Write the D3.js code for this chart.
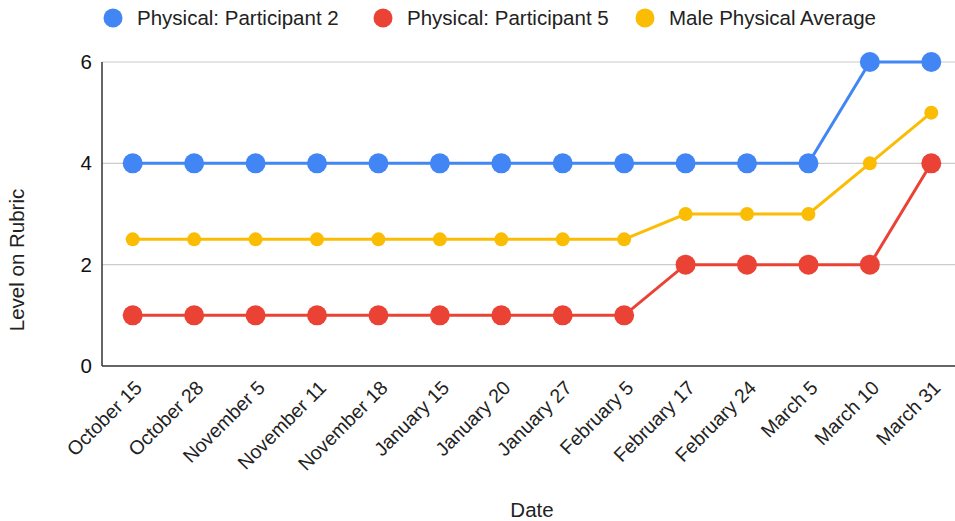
<!DOCTYPE html>
<html>
<head>
<meta charset="utf-8">
<script src="https://cdn.jsdelivr.net/npm/d3@7/dist/d3.min.js"></script>
<style>
  html, body { margin: 0; padding: 0; background: #fff; }
  svg { display: block; font-family: Arial, "Liberation Sans", sans-serif; }
</style>
</head>
<body>
<svg id="chart" width="955" height="521"></svg>
<script>
// Session dates along the x axis
const dates = ["October 15", "October 28", "November 5", "November 11", "November 18",
  "January 15", "January 20", "January 27", "February 5", "February 17",
  "February 24", "March 5", "March 10", "March 31"];

// Rubric levels per series
const participant2 = [4, 4, 4, 4, 4, 4, 4, 4, 4, 4, 4, 4, 6, 6];
const participant5 = [1, 1, 1, 1, 1, 1, 1, 1, 1, 2, 2, 2, 2, 4];
const maleAverage  = [2.5, 2.5, 2.5, 2.5, 2.5, 2.5, 2.5, 2.5, 2.5, 3, 3, 3, 4, 5];

const yTicks = [0, 2, 4, 6];

const seriesNames  = ["Physical: Participant 2", "Physical: Participant 5", "Male Physical Average"];
const seriesColors = ["#4285F4", "#EA4335", "#FBBC04"];

const series = [
  { name: seriesNames[0], values: participant2, color: seriesColors[0], r: 10, w: 3 },
  { name: seriesNames[1], values: participant5, color: seriesColors[1], r: 10, w: 3 },
  { name: seriesNames[2], values: maleAverage,  color: seriesColors[2], r: 7,  w: 3 }
];

const svg = d3.select("#chart");
const plotLeft = 102, plotRight = 962, plotTop = 62, plotBottom = 366;
const fontStack = "Arial, 'Liberation Sans', sans-serif";

const x = d3.scalePoint().domain(dates).range([plotLeft, plotRight]).padding(0.5);
const y = d3.scaleLinear().domain([0, 6]).range([plotBottom, plotTop]);

// Gridlines
svg.append("g").selectAll("line")
  .data(yTicks.filter(t => t !== 0))
  .join("line")
  .attr("x1", plotLeft).attr("x2", 955)
  .attr("y1", d => y(d)).attr("y2", d => y(d))
  .attr("stroke", "#cccccc").attr("stroke-width", 1.2);

// Y axis tick labels
const yAxis = svg.append("g")
  .attr("transform", `translate(${plotLeft},0)`)
  .call(d3.axisLeft(y).tickValues(yTicks).tickSize(0).tickPadding(10).tickFormat(d3.format("d")));
yAxis.select(".domain").remove();
yAxis.selectAll("text")
  .attr("font-size", 20.5).attr("fill", "#111").attr("font-family", fontStack);

// Axis lines
svg.append("line").attr("x1", plotLeft).attr("x2", plotLeft).attr("y1", plotTop).attr("y2", plotBottom)
  .attr("stroke", "#333").attr("stroke-width", 1.5);
svg.append("line").attr("x1", plotLeft).attr("x2", 955).attr("y1", plotBottom).attr("y2", plotBottom)
  .attr("stroke", "#333").attr("stroke-width", 1.5);

// X axis labels, rotated
const xAxis = svg.append("g")
  .attr("transform", `translate(0,${plotBottom})`)
  .call(d3.axisBottom(x).tickSize(0));
xAxis.select(".domain").remove();
xAxis.selectAll("text")
  .attr("font-size", 19.5).attr("fill", "#222").attr("font-family", fontStack)
  .attr("text-anchor", "end")
  .attr("y", 0).attr("dy", 0)
  .attr("transform", "translate(10,23) rotate(-45)");

// Lines and points
const line = d3.line().x((d, i) => x(dates[i])).y(d => y(d));
series.forEach(s => {
  const g = svg.append("g");
  g.append("path").datum(s.values)
    .attr("d", line).attr("fill", "none")
    .attr("stroke", s.color).attr("stroke-width", s.w);
  g.selectAll("circle").data(s.values).join("circle")
    .attr("cx", (d, i) => x(dates[i])).attr("cy", d => y(d))
    .attr("r", s.r).attr("fill", s.color);
});

// Legend
const legendX = [113, 383, 645];
const legend = svg.append("g");
series.forEach((s, i) => {
  legend.append("circle").attr("cx", legendX[i]).attr("cy", 18).attr("r", 9.5).attr("fill", s.color);
  legend.append("text").attr("x", legendX[i] + 24).attr("y", 25)
    .attr("font-size", 20.5).attr("fill", "#222").text(s.name);
});

// Axis titles
svg.append("text").attr("x", 532).attr("y", 517).attr("text-anchor", "middle")
  .attr("font-size", 20.5).attr("fill", "#222").text("Date");
svg.append("text").attr("transform", "translate(24,260) rotate(-90)").attr("text-anchor", "middle")
  .attr("font-size", 20.5).attr("fill", "#222").text("Level on Rubric");
</script>
</body>
</html>
